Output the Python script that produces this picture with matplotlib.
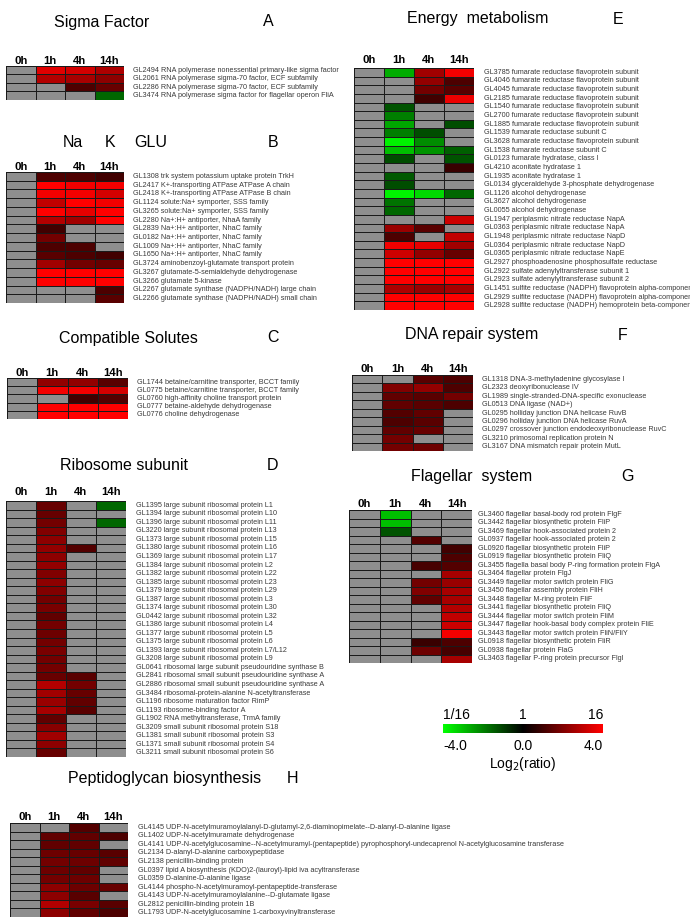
import numpy as np
import matplotlib
matplotlib.use("Agg")
import matplotlib.pyplot as plt
from matplotlib import font_manager
from matplotlib.colors import LinearSegmentedColormap

nan = np.nan
times = ["0h", "1h", "4h", "14h"]

# ---- panel A: sigma factor
sigma_labels = [
    "GL2494 RNA polymerase nonessential primary-like sigma factor",
    "GL2061 RNA polymerase sigma-70 factor, ECF subfamily",
    "GL2286 RNA polymerase sigma-70 factor, ECF subfamily",
    "GL3474 RNA polymerase sigma factor for flagellar operon FliA",
]
sigma_vals = [
    [nan, 3.5, 3.3, 2.7],
    [nan, 2.8, 2.6, 2.2],
    [nan, nan, 1.2, 1.6],
    [nan, nan, nan, -1.6],
]

# ---- panel B: Na K GLU
ion_labels = [
    "GL1308 trk system potassium uptake protein TrkH",
    "GL2417 K+-transporting ATPase ATPase A chain",
    "GL2418 K+-transporting ATPase ATPase B chain",
    "GL1124 solute:Na+ symporter, SSS family",
    "GL3265 solute:Na+ symporter, SSS family",
    "GL2280 Na+:H+ antiporter, NhaA family",
    "GL2839 Na+:H+ antiporter, NhaC family",
    "GL0182 Na+:H+ antiporter, NhaC family",
    "GL1009 Na+:H+ antiporter, NhaC family",
    "GL1650 Na+:H+ antiporter, NhaC family",
    "GL3724 aminobenzoyl-glutamate transport protein",
    "GL3267 glutamate-5-semialdehyde dehydrogenase",
    "GL3266 glutamate 5-kinase",
    "GL2267 glutamate synthase (NADPH/NADH) large chain",
    "GL2266 glutamate synthase (NADPH/NADH) small chain",
]
ion_vals = [
    [nan, 1.2, 1.2, 1.0],
    [nan, 4.0, 3.8, 3.8],
    [nan, 3.8, 3.8, 3.3],
    [nan, 3.0, 4.0, 3.8],
    [nan, 4.0, 3.6, 4.0],
    [nan, 2.8, 2.5, 4.0],
    [nan, 1.0, nan, nan],
    [nan, 1.8, nan, nan],
    [nan, 1.2, 1.2, nan],
    [nan, 1.4, 1.2, 1.0],
    [nan, 2.5, 1.8, 1.6],
    [nan, 4.0, 4.0, 4.0],
    [nan, 4.0, 4.0, 4.0],
    [nan, nan, nan, 1.2],
    [nan, nan, nan, 1.4],
]

# ---- panel C: compatible solutes
solute_labels = [
    "GL1744 betaine/carnitine transporter, BCCT family",
    "GL0775 betaine/carnitine transporter, BCCT family",
    "GL0760 high-affinity choline transport protein",
    "GL0777 betaine-aldehyde dehydrogenase",
    "GL0776 choline dehydrogenase",
]
solute_vals = [
    [nan, 2.3, 2.3, 1.4],
    [nan, 3.8, 3.8, 3.3],
    [nan, nan, 1.0, 1.3],
    [nan, 4.0, 4.0, 4.0],
    [nan, 4.0, 4.0, 4.0],
]

# ---- panel D: ribosome subunit
ribo_labels = [
    "GL1395 large subunit ribosomal protein L1",
    "GL1394 large subunit ribosomal protein L10",
    "GL1396 large subunit ribosomal protein L11",
    "GL3220 large subunit ribosomal protein L13",
    "GL1373 large subunit ribosomal protein L15",
    "GL1380 large subunit ribosomal protein L16",
    "GL1369 large subunit ribosomal protein L17",
    "GL1384 large subunit ribosomal protein L2",
    "GL1382 large subunit ribosomal protein L22",
    "GL1385 large subunit ribosomal protein L23",
    "GL1379 large subunit ribosomal protein L29",
    "GL1387 large subunit ribosomal protein L3",
    "GL1374 large subunit ribosomal protein L30",
    "GL0442 large subunit ribosomal protein L32",
    "GL1386 large subunit ribosomal protein L4",
    "GL1377 large subunit ribosomal protein L5",
    "GL1375 large subunit ribosomal protein L6",
    "GL1393 large subunit ribosomal protein L7/L12",
    "GL3208 large subunit ribosomal protein L9",
    "GL0641 ribosomal large subunit pseudouridine synthase B",
    "GL2841 ribosomal small subunit pseudouridine synthase A",
    "GL2886 ribosomal small subunit pseudouridine synthase A",
    "GL3484 ribosomal-protein-alanine N-acetyltransferase",
    "GL1196 ribosome maturation factor RimP",
    "GL1193 ribosome-binding factor A",
    "GL1902 RNA methyltransferase, TrmA family",
    "GL3209 small subunit ribosomal protein S18",
    "GL1381 small subunit ribosomal protein S3",
    "GL1371 small subunit ribosomal protein S4",
    "GL3211 small subunit ribosomal protein S6",
]
ribo_vals = [
    [nan, 1.6, nan, -1.6],
    [nan, 1.6, nan, nan],
    [nan, 1.8, nan, -1.6],
    [nan, 2.0, nan, nan],
    [nan, 2.2, nan, nan],
    [nan, 2.3, 1.3, nan],
    [nan, 2.2, nan, nan],
    [nan, 2.3, nan, nan],
    [nan, 2.0, nan, nan],
    [nan, 2.2, nan, nan],
    [nan, 2.0, nan, nan],
    [nan, 1.8, nan, nan],
    [nan, 1.9, nan, nan],
    [nan, 1.5, nan, nan],
    [nan, 1.8, nan, nan],
    [nan, 1.7, nan, nan],
    [nan, 1.8, nan, nan],
    [nan, 1.9, nan, nan],
    [nan, 1.8, nan, nan],
    [nan, 1.8, nan, nan],
    [nan, 1.6, 1.4, nan],
    [nan, 2.8, 1.8, nan],
    [nan, 2.5, 1.6, nan],
    [nan, 2.4, 1.5, nan],
    [nan, 2.6, 1.4, nan],
    [nan, 1.5, nan, nan],
    [nan, 2.1, nan, nan],
    [nan, 2.5, nan, nan],
    [nan, 2.2, nan, nan],
    [nan, 1.6, nan, nan],
]

# ---- panel E: energy metabolism
energy_labels = [
    "GL3785 fumarate reductase flavoprotein subunit",
    "GL4046 fumarate reductase flavoprotein subunit",
    "GL4045 fumarate reductase flavoprotein subunit",
    "GL2185 fumarate reductase flavoprotein subunit",
    "GL1540 fumarate reductase flavoprotein subunit",
    "GL2700 fumarate reductase flavoprotein subunit",
    "GL1885 fumarate reductase flavoprotein subunit",
    "GL1539 fumarate reductase subunit C",
    "GL3628 fumarate reductase flavoprotein subunit",
    "GL1538 fumarate reductase subunit C",
    "GL0123 fumarate hydratase, class I",
    "GL4210 aconitate hydratase 1",
    "GL1935 aconitate hydratase 1",
    "GL0134 glyceraldehyde 3-phosphate dehydrogenase",
    "GL1126 alcohol dehydrogenase",
    "GL3627 alcohol dehydrogenase",
    "GL0055 alcohol dehydrogenase",
    "GL1947 periplasmic nitrate reductase NapA",
    "GL0363 periplasmic nitrate reductase NapA",
    "GL1948 periplasmic nitrate reductase NapD",
    "GL0364 periplasmic nitrate reductase NapD",
    "GL0365 periplasmic nitrate reductase NapE",
    "GL2927 phosphoadenosine phosphosulfate reductase",
    "GL2922 sulfate adenylyltransferase subunit 1",
    "GL2923 sulfate adenylyltransferase subunit 2",
    "GL1451 sulfite reductase (NADPH) flavoprotein alpha-component",
    "GL2929 sulfite reductase (NADPH) flavoprotein alpha-component",
    "GL2928 sulfite reductase (NADPH) hemoprotein beta-component",
]
energy_vals = [
    [nan, -2.7, 2.5, 3.8],
    [nan, nan, 2.3, 1.2],
    [nan, nan, 1.8, 1.4],
    [nan, nan, 1.0, 3.7],
    [nan, -1.3, nan, nan],
    [nan, -2.0, nan, nan],
    [nan, -2.6, nan, -1.2],
    [nan, -2.0, -1.2, nan],
    [nan, -3.8, -2.2, nan],
    [nan, -3.0, -2.3, -1.5],
    [nan, -1.2, nan, -1.3],
    [nan, nan, nan, 0.9],
    [nan, -1.4, nan, nan],
    [nan, -1.2, nan, nan],
    [nan, -3.8, -3.4, -1.6],
    [nan, -1.8, nan, nan],
    [nan, -1.6, nan, nan],
    [nan, nan, nan, 3.2],
    [nan, 2.4, 1.4, nan],
    [nan, 1.2, nan, 3.0],
    [nan, 3.8, 3.6, 2.5],
    [nan, 3.2, 2.3, 1.6],
    [nan, 4.0, 4.0, 4.0],
    [nan, 4.0, 4.0, 4.0],
    [nan, 4.0, 4.0, 4.0],
    [nan, 2.7, 2.4, 2.6],
    [nan, 4.0, 4.0, 4.0],
    [nan, 4.0, 4.0, 4.0],
]

# ---- panel F: DNA repair
dna_labels = [
    "GL1318 DNA-3-methyladenine glycosylase I",
    "GL2323 deoxyribonuclease IV",
    "GL1989 single-stranded-DNA-specific exonuclease",
    "GL0513 DNA ligase (NAD+)",
    "GL0295 holliday junction DNA helicase RuvB",
    "GL0296 holliday junction DNA helicase RuvA",
    "GL0297 crossover junction endodeoxyribonuclease RuvC",
    "GL3210 primosomal replication protein N",
    "GL3167 DNA mismatch repair protein MutL",
]
dna_vals = [
    [nan, nan, 1.4, 1.2],
    [nan, 2.0, 2.3, 1.2],
    [nan, 1.5, 1.4, 1.8],
    [nan, 1.5, 1.4, 1.2],
    [nan, 1.3, 1.5, nan],
    [nan, 1.2, 1.4, nan],
    [nan, 1.5, 1.6, nan],
    [nan, 1.8, nan, nan],
    [nan, 1.8, 1.7, nan],
]

# ---- panel G: flagellar system
flag_labels = [
    "GL3460 flagellar basal-body rod protein FlgF",
    "GL3442 flagellar biosynthetic protein FliP",
    "GL3469 flagellar hook-associated protein 2",
    "GL0937 flagellar hook-associated protein 2",
    "GL0920 flagellar biosynthetic protein FliP",
    "GL0919 flagellar biosynthetic protein FliQ",
    "GL3455 flagella basal body P-ring formation protein FlgA",
    "GL3464 flagellar protein FlgJ",
    "GL3449 flagellar motor switch protein FliG",
    "GL3450 flagellar assembly protein FliH",
    "GL3448 flagellar M-ring protein FliF",
    "GL3441 flagellar biosynthetic protein FliQ",
    "GL3444 flagellar motor switch protein FliM",
    "GL3447 flagellar hook-basal body complex protein FliE",
    "GL3443 flagellar motor switch protein FliN/FliY",
    "GL0918 flagellar biosynthetic protein FliR",
    "GL0938 flagellar protein FlaG",
    "GL3463 flagellar P-ring protein precursor FlgI",
]
flag_vals = [
    [nan, -3.0, nan, nan],
    [nan, -3.0, nan, nan],
    [nan, -1.3, nan, nan],
    [nan, nan, 1.3, nan],
    [nan, nan, nan, 1.0],
    [nan, nan, nan, 1.2],
    [nan, nan, 1.1, 1.3],
    [nan, nan, nan, 2.6],
    [nan, nan, 1.8, 2.4],
    [nan, nan, 2.0, 2.6],
    [nan, nan, 1.5, 2.6],
    [nan, nan, nan, 2.8],
    [nan, nan, nan, 3.0],
    [nan, nan, nan, 3.2],
    [nan, nan, nan, 3.8],
    [nan, nan, 0.9, 1.2],
    [nan, nan, 1.7, 1.1],
    [nan, nan, nan, 2.6],
]

# ---- panel H: peptidoglycan biosynthesis
pg_labels = [
    "GL4145 UDP-N-acetylmuramoylalanyl-D-glutamyl-2,6-diaminopimelate--D-alanyl-D-alanine ligase",
    "GL1402 UDP-N-acetylmuramate dehydrogenase",
    "GL4141 UDP-N-acetylglucosamine--N-acetylmuramyl-(pentapeptide) pyrophosphoryl-undecaprenol N-acetylglucosamine transferase",
    "GL2134 D-alanyl-D-alanine carboxypeptidase",
    "GL2138 penicillin-binding protein",
    "GL0397 lipid A biosynthesis (KDO)2-(lauroyl)-lipid iva acyltransferase",
    "GL0359 D-alanine-D-alanine ligase",
    "GL4144 phospho-N-acetylmuramoyl-pentapeptide-transferase",
    "GL4143 UDP-N-acetylmuramoylalanine--D-glutamate ligase",
    "GL2812 penicillin-binding protein 1B",
    "GL1793 UDP-N-acetylglucosamine 1-carboxyvinyltransferase",
]
pg_vals = [
    [nan, nan, 1.3, nan],
    [nan, 1.5, 1.5, 1.2],
    [nan, 1.5, 1.5, nan],
    [nan, 1.7, 1.6, 1.4],
    [nan, 1.8, 1.7, 1.5],
    [nan, 1.7, 1.5, nan],
    [nan, 1.8, 1.7, nan],
    [nan, 2.2, 1.7, 1.6],
    [nan, 2.2, 1.4, nan],
    [nan, 2.8, 1.9, 1.4],
    [nan, 2.2, 1.5, 1.2],
]

W, H = 690, 921

try:
    font_manager.findfont("Liberation Sans Narrow", fallback_to_default=False)
    label_font, label_size = "Liberation Sans Narrow", 6.3
except ValueError:
    label_font, label_size = "Liberation Sans", 5.2

plt.rcParams["font.family"] = ["Liberation Sans", "DejaVu Sans"]

cmap = LinearSegmentedColormap.from_list("gbr", ["#00ff00", "#000000", "#ff0000"])
cmap.set_bad("#8e8e8e")

fig = plt.figure(figsize=(W / 100, H / 100), dpi=100)


def fx(x):
    return x / W


def fy(y):
    return 1 - y / H


def heatmap(box, vals, labels, label_x, header_y):
    x0, y0, x1, y1 = box
    ax = fig.add_axes([fx(x0), fy(y1), fx(x1 - x0), (y1 - y0) / H])
    data = np.ma.masked_invalid(np.array(vals, dtype=float))
    mesh = ax.pcolormesh(data, cmap=cmap, vmin=-4, vmax=4,
                         edgecolors="#1a1a1a", linewidth=0.7)
    ax.set_xlim(0, 4)
    ax.set_ylim(len(vals), 0)
    ax.set_axis_off()
    cw = (x1 - x0) / 4
    for i, t in enumerate(times):
        fig.text(fx(x0 + cw * (i + 0.5)), fy(header_y), t, ha="center",
                 va="baseline", fontsize=8.2, fontweight="bold")
    rh = (y1 - y0) / len(vals)
    for j, lab in enumerate(labels):
        fig.text(fx(label_x), fy(y0 + rh * (j + 0.5)), lab, ha="left",
                 va="center", fontsize=label_size, family=label_font,
                 color="#3a3a3a")
    return mesh


def title(x, y, s, **kw):
    fig.text(fx(x), fy(y), s, ha="center", va="center", fontsize=11.5, **kw)


# left column
title(102, 22, "Sigma Factor")
title(268, 22, "A")
heatmap((6, 66, 124, 100), sigma_vals, sigma_labels, 133, 64)

title(73, 142, "Na")
title(110, 142, "K")
title(151, 142, "GLU")
title(273, 142, "B")
heatmap((6, 172, 124, 303), ion_vals, ion_labels, 133, 170)

title(128, 338, "Compatible Solutes")
title(273, 338, "C")
heatmap((7, 378, 128, 419), solute_vals, solute_labels, 137, 376)

title(124, 465, "Ribosome subunit")
title(273, 465, "D")
heatmap((6, 501, 126, 757), ribo_vals, ribo_labels, 136, 495)

title(165, 778, "Peptidoglycan biosynthesis")
title(292, 778, "H")
heatmap((10, 823, 128, 917), pg_vals, pg_labels, 138, 820)

# right column
title(478, 19, "Energy  metabolism")
title(618, 19, "E")
mesh = heatmap((354, 68, 474, 310), energy_vals, energy_labels, 484, 63)

title(472, 335, "DNA repair system")
title(623, 335, "F")
heatmap((352, 375, 473, 451), dna_vals, dna_labels, 482, 372)

title(472, 476, "Flagellar  system")
title(628, 476, "G")
heatmap((349, 510, 472, 663), flag_vals, flag_labels, 478, 507)

# colour scale
cax = fig.add_axes([fx(443), fy(733), fx(603 - 443), 9 / H])
cb = fig.colorbar(mesh, cax=cax, orientation="horizontal")
cb.outline.set_visible(False)
cb.set_ticks([])
fig.text(fx(443), fy(719), "1/16", ha="left", va="baseline", fontsize=10)
fig.text(fx(523), fy(719), "1", ha="center", va="baseline", fontsize=10)
fig.text(fx(603), fy(719), "16", ha="right", va="baseline", fontsize=10)
fig.text(fx(443), fy(750), "-4.0", ha="left", va="baseline", fontsize=10)
fig.text(fx(523), fy(750), "0.0", ha="center", va="baseline", fontsize=10)
fig.text(fx(603), fy(750), "4.0", ha="right", va="baseline", fontsize=10)
fig.text(fx(523), fy(768), r"Log$_2$(ratio)", ha="center", va="baseline",
         fontsize=10)

fig.savefig("out.png", dpi=100)
